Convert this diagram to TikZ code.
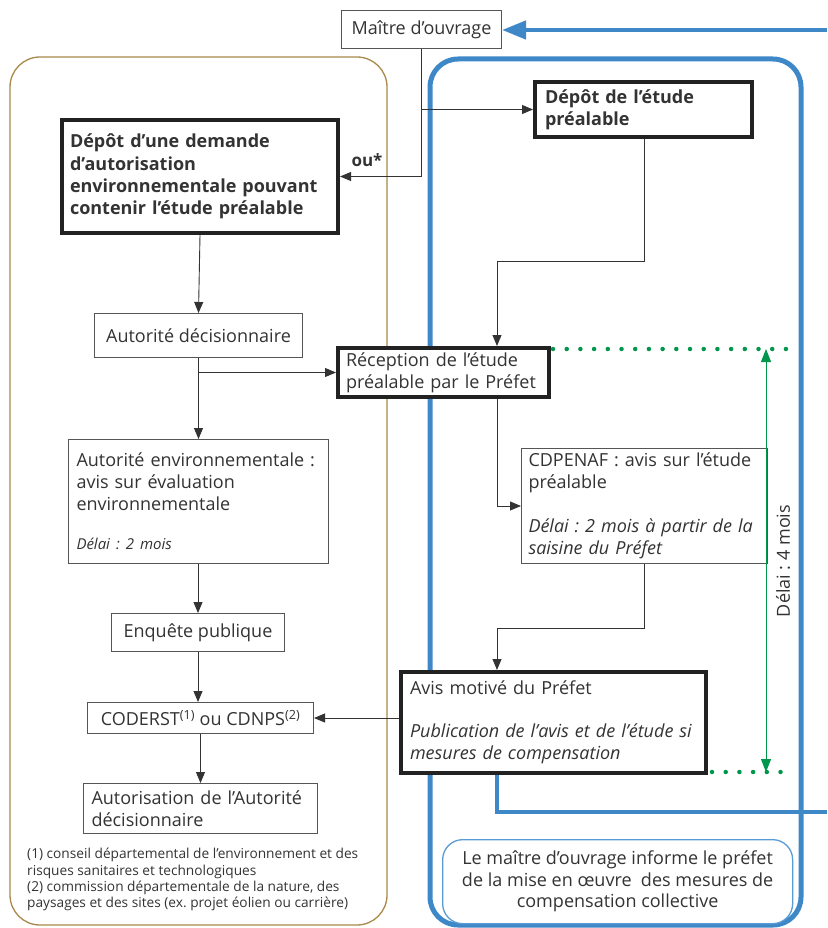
\documentclass[tikz,border=0pt]{standalone}
\usepackage{fontspec}
\setmainfont{Open Sans}
\usetikzlibrary{arrows.meta,calc}
\definecolor{txt}{HTML}{333333}
\definecolor{boxgray}{HTML}{555555}
\definecolor{thickc}{HTML}{222222}
\definecolor{brownc}{HTML}{A8894A}
\definecolor{bluec}{HTML}{3F88C8}
\definecolor{infob}{HTML}{5B9BD5}
\definecolor{greenc}{HTML}{00964B}
\frenchspacing
\begin{document}
\begin{tikzpicture}[x=1pt,y=-1pt,
  every node/.style={text=txt},
  base/.style={rectangle,anchor=north west,inner ysep=0pt,font=\fontsize{18}{22}\selectfont},
  thinbox/.style={base,draw=boxgray,fill=white,line width=1pt},
  thickbox/.style={base,draw=thickc,fill=white,line width=4pt},
  conn/.style={draw=txt,line width=0.9pt,-{Triangle[length=11pt,width=9pt]}},
  bluepath/.style={draw=bluec,line width=4.5pt},
  gdot/.style={draw=greenc,line width=4.5pt,line cap=round,dash pattern=on 0pt off 13.7pt},
  garr/.style={draw=greenc,line width=1pt,{Triangle[length=13pt,width=10pt]}-{Triangle[length=13pt,width=10pt]}},
]
\useasboundingbox (0,0) rectangle (827,928);

% panels
\draw[brownc,line width=1.3pt,rounded corners=30pt] (10,57) rectangle (387,925);
\draw[bluec,line width=5pt,rounded corners=28pt] (430,59) rectangle (801,925);

% nodes
\node[thinbox,minimum width=160pt,minimum height=38pt,align=center] (mo) at (341,10) {Maître d’ouvrage};
\node[thickbox,minimum width=217pt,minimum height=55pt,inner xsep=10pt,text width=197pt,align=left,font=\fontsize{18}{22}\selectfont\bfseries] (dep) at (533,80) {Dépôt de l’étude\\préalable};
\node[thickbox,minimum width=276pt,minimum height=113pt,inner xsep=8pt,text width=260pt,align=left,font=\fontsize{18}{22.2}\selectfont\bfseries] (dem) at (60,118) {Dépôt d’une demande\\d’autorisation\\environnementale pouvant\\contenir l’étude préalable};
\node[thinbox,minimum width=208pt,minimum height=44pt,align=center] (ad) at (94,313) {Autorité décisionnaire};
\node[thickbox,minimum width=211pt,minimum height=49pt,inner xsep=8pt,text width=195pt,align=left] (rec) at (336,346) {Réception de l’étude\\préalable par le Préfet};
\node[thinbox,minimum width=240pt,minimum height=115pt,inner xsep=7pt,text width=232pt,align=left] (cdp) at (521,448) {CDPENAF : avis sur l’étude\\préalable\\[21.5pt]\textit{Délai : 2 mois à partir de la}\\\textit{saisine du Préfet}};
\node[thinbox,minimum width=260pt,minimum height=124pt,inner xsep=8pt,text width=244pt,align=left] (ae) at (68,439) {Autorité environnementale :\\avis sur évaluation\\environnementale\\[17pt]{\fontsize{15}{18}\selectfont\itshape Délai : 2 mois}};
\node[thinbox,minimum width=173pt,minimum height=38pt,align=center] (enq) at (111,613) {Enquête publique};
\node[thinbox,minimum width=226pt,minimum height=31pt,align=center] (cod) at (87,702) {CODERST\textsuperscript{(1)} ou CDNPS\textsuperscript{(2)}};
\node[thinbox,minimum width=234pt,minimum height=50pt,inner xsep=8pt,text width=218pt,align=left] (aut) at (83,783) {Autorisation de l’Autorité\\décisionnaire};
\node[thickbox,minimum width=305pt,minimum height=101pt,inner xsep=9pt,text width=287pt,align=left] (avis) at (399,670) {Avis motivé du Préfet\\[21.5pt]\textit{Publication de l’avis et de l’étude si}\\\textit{mesures de compensation}};
\node[base,draw=infob,fill=white,line width=1.3pt,rounded corners=20pt,minimum width=350pt,minimum height=84pt,align=center,font=\fontsize{18}{21.5}\selectfont] (info) at (442,839) {Le maître d’ouvrage informe le préfet\\de la mise en œuvre\ \ des mesures de\\compensation collective};

% footnotes
\node[anchor=north west,align=left,inner sep=0pt,font=\fontsize{13.7}{16.4}\selectfont] (fn) at (27,848) {(1) conseil départemental de l’environnement et des\\risques sanitaires et technologiques\\(2) commission départementale de la nature, des\\paysages et des sites (ex. projet éolien ou carrière)};

% labels
\node[font=\fontsize{17}{20}\selectfont\bfseries] (ou) at (367,160) {ou*};
\node[rotate=90,font=\fontsize{18}{20}\selectfont,text=txt] (delai) at (783,561) {Délai : 4 mois};

% helper coordinates
\coordinate (xR) at (497,0);
\coordinate (xC) at (644,0);

% connectors
\draw[conn] (mo.south) |- (dem.east);
\draw[conn] (mo.south |- dep.west) -- (dep.west);
\draw[conn] (dem.south) -- (ad.north);
\draw[conn] (ad.south) -- (ae.north);
\draw[conn] (ad.south |- rec.west) -- (rec.west);
\draw[conn] (dep.south -| xC) -- ++(0,122) -| (rec.north -| xR);
\draw[conn] (rec.south -| xR) |- (cdp.west);
\draw[conn] (cdp.south -| xC) -- ++(0,64) -| (avis.north -| xR);
\draw[conn] (avis.west |- cod.east) -- (cod.east);
\draw[conn] (ae.south -| enq.north) -- (enq.north);
\draw[conn] (enq.south) -- (enq.south |- cod.north);
\draw[conn] (cod.south) -- (cod.south |- aut.north);

% blue connectors
\coordinate (bin) at (827,30);
\coordinate (bout) at (827,812);
\draw[bluepath,-{Triangle[length=24pt,width=18pt]}] (bin) -- (mo.east |- bin);
\draw[bluepath] (avis.south -| xR) |- (bout);

% green delay
\coordinate (gt1) at (553,349);
\coordinate (gt2) at (789,349);
\coordinate (gb1) at (712,772);
\coordinate (gb2) at (789,772);
\draw[gdot] (gt1) -- (gt2);
\draw[gdot] (gb1) -- (gb2);
\draw[garr] (766,349) -- (766,772);
\end{tikzpicture}
\end{document}
